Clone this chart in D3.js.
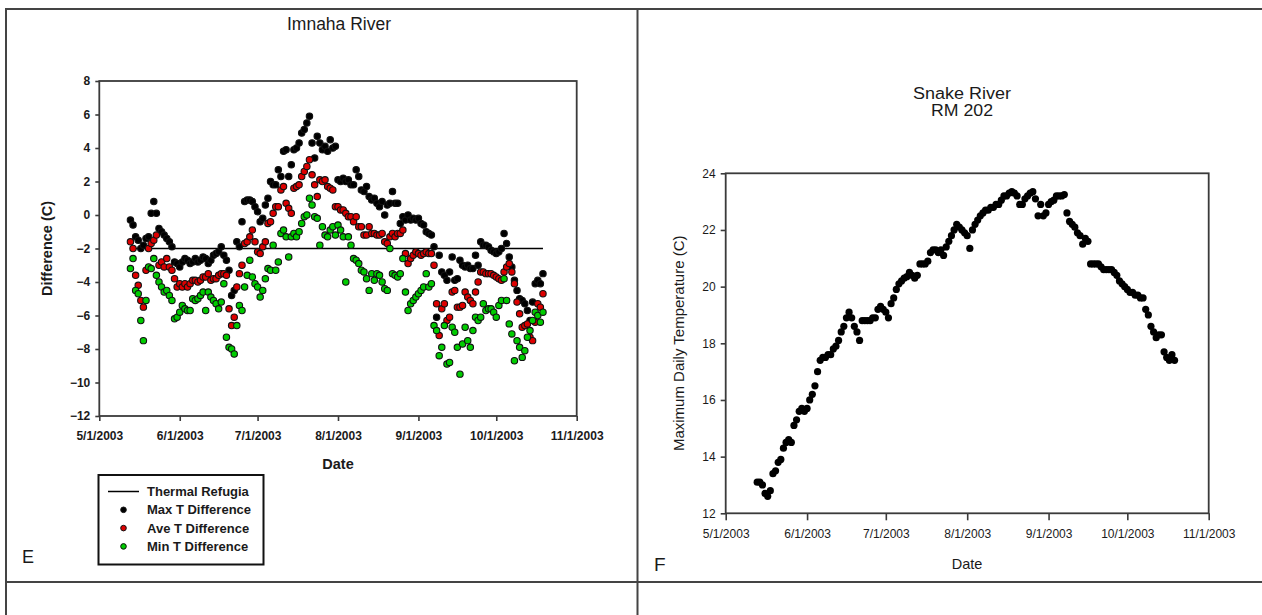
<!DOCTYPE html>
<html>
<head>
<meta charset="utf-8">
<script src="https://cdn.jsdelivr.net/npm/d3@7"></script>
<style>
  html, body { margin: 0; padding: 0; background: #fff; }
  svg { display: block; font-family: "Liberation Sans", Arial, sans-serif; }
</style>
</head>
<body>
<svg id="fig" width="1262" height="615"></svg>
<script>
// ---- Daily observations, 5/13/2003 through 10/20/2003 ----
const firstDay = new Date(2003, 4, 13);

// Imnaha River: temperature differences (C)
const maxDiff = [
  -0.3, -0.6, -1.3, -1.5, -2.0, -1.8, -1.4, -1.3, 0.1, 0.8,
  0.1, -0.8, -1.0, -1.2, -1.4, -1.6, -1.9, -2.8, -2.9, -3.1,
  -2.8, -2.6, -2.7, -2.9, -2.8, -2.6, -2.8, -2.7, -2.5, -2.6,
  -2.9, -2.7, -2.4, -2.3, -2.2, -1.9, -2.4, -2.7, -3.3, -4.8,
  -4.5, -1.6, -1.9, -0.4, 0.8, 0.9, 0.9, 0.8, 0.5, 0.2,
  -0.4, -0.2, 0.6, 1.0, 2.0, 1.8, 1.8, 2.7, 2.3, 3.8,
  3.9, 2.3, 3.0, 3.9, 4.0, 4.3, 4.9, 5.1, 5.5, 5.9,
  4.3, 3.4, 4.7, 4.3, 3.9, 4.1, 3.8, 4.5, 4.0, 4.1,
  2.1, 2.0, 2.2, 2.0, 2.1, 1.8, 1.8, 2.7, 2.3, 1.5,
  1.4, 1.7, 1.1, 0.9, 1.0, 0.7, 0.5, 0.8, 0.0, 0.6,
  0.7, 1.4, 0.7, 0.7, -0.5, -0.1, -0.3, 0.0, -0.3, -0.2,
  -0.3, -0.2, -0.5, -0.6, -1.0, -1.1, -1.2, -1.9, -6.1, -2.4,
  -3.4, -3.6, -3.9, -3.4, -2.5, -3.9, -3.8, -2.7, -3.0, -3.1,
  -3.0, -3.2, -3.2, -2.4, -3.0, -1.6, -1.8, -1.8, -1.9, -2.1,
  -2.2, -2.3, -2.2, -2.0, -1.1, -1.7, -2.5, -3.1, -3.9, -4.5,
  -5.0, -5.1, -5.3, -5.7, -6.3, -5.2, -4.1, -3.9, -4.1, -3.5
];
const aveDiff = [
  -1.6, -2.0, -3.6, -4.2, -5.1, -5.5, -3.3, -2.0, -1.7, -1.5,
  -1.2, -3.0, -2.8, -3.1, -2.6, -3.1, -3.3, -3.8, -4.3, -4.1,
  -4.3, -4.1, -4.3, -4.1, -3.9, -3.9, -4.0, -3.9, -3.7, -3.7,
  -3.5, -3.9, -3.8, -3.8, -3.6, -3.5, -3.5, -3.6, -5.6, -6.6,
  -6.1, -4.3, -3.5, -3.0, -1.7, -1.6, -1.3, -0.9, -1.6, -2.2,
  -2.3, -1.9, -1.6, -0.5, -0.4, 0.1, 0.5, 0.5, 1.5, 1.7,
  0.7, 0.4, 0.1, 1.6, 1.7, 1.8, 2.3, 2.6, 2.9, 3.3,
  2.4, 1.8, 1.1, 2.1, 2.0, 2.1, 1.7, 1.6, 1.5, 0.5,
  0.5, 0.3, 0.3, 0.1, -0.1, -0.1, -0.4, -0.1, -0.7, -0.7,
  -1.2, -1.2, -0.7, -1.1, -1.1, -1.2, -1.2, -1.1, -1.6, -1.7,
  -1.3, -1.1, -1.3, -1.1, -1.1, -0.9, -2.3, -2.9, -2.6, -2.4,
  -2.2, -2.3, -2.4, -2.3, -2.2, -2.3, -2.3, -3.0, -5.3, -7.2,
  -5.6, -5.3, -6.3, -6.1, -4.6, -4.5, -5.5, -5.5, -5.4, -4.6,
  -4.9, -5.1, -5.3, -4.6, -4.0, -3.4, -3.4, -3.5, -3.5, -3.5,
  -3.6, -3.7, -3.8, -3.9, -3.4, -3.1, -2.9, -3.4, -4.1, -5.2,
  -5.9, -6.7, -6.6, -6.5, -7.3, -7.5, -6.4, -5.3, -5.5, -4.7
];
const minDiff = [
  -3.2, -2.6, -4.5, -4.7, -6.3, -7.5, -5.1, -3.1, -3.2, -2.6,
  -3.6, -4.0, -4.3, -4.6, -4.5, -4.8, -5.1, -6.2, -6.1, -5.8,
  -5.4, -5.6, -5.7, -5.7, -5.0, -5.1, -5.0, -4.8, -4.6, -5.7,
  -4.6, -4.9, -5.1, -5.3, -5.6, -5.2, -4.1, -7.3, -7.9, -8.0,
  -8.3, -6.6, -5.4, -5.7, -4.3, -3.6, -2.7, -3.7, -4.1, -4.3,
  -4.9, -4.5, -3.8, -3.2, -3.3, -1.8, -3.3, -2.8, -1.1, -0.9,
  -1.3, -2.5, -1.3, -1.1, -1.3, -1.0, -0.5, -0.1, 0.0, 1.0,
  0.6, -0.1, -0.2, -1.8, -0.7, -1.2, -1.3, -0.9, -0.7, -1.2,
  -0.6, -0.9, -1.3, -4.0, -1.3, -1.8, -2.6, -2.7, -2.9, -3.3,
  -3.4, -3.8, -4.5, -3.5, -3.9, -3.5, -3.6, -4.0, -4.4, -4.5,
  -2.0, -3.5, -3.6, -3.7, -3.5, -2.6, -4.6, -5.7, -5.3, -5.1,
  -4.9, -4.7, -4.5, -4.3, -3.5, -4.3, -4.1, -6.6, -6.9, -8.4,
  -7.9, -6.6, -8.9, -8.8, -6.7, -7.0, -7.9, -9.5, -7.7, -6.7,
  -7.5, -7.9, -6.9, -6.1, -6.3, -6.1, -5.3, -5.7, -5.6, -5.6,
  -5.8, -6.1, -5.4, -5.1, -3.8, -5.1, -6.5, -7.1, -8.7, -7.5,
  -7.9, -8.5, -8.1, -7.3, -6.9, -6.3, -5.8, -6.0, -6.4, -5.8
];
const refugiaLevel = -2;

// Snake River RM 202: maximum daily temperature (C)
const snakeMax = [
  13.1, 13.1, 13.0, 12.7, 12.6, 12.8, 13.4, 13.5, 13.8, 13.9,
  14.3, 14.5, 14.6, 14.5, 15.1, 15.3, 15.6, 15.7, 15.6, 15.7,
  16.0, 16.2, 16.5, 17.0, 17.4, 17.5, 17.5, 17.6, 17.6, 17.8,
  17.9, 18.1, 18.4, 18.6, 18.9, 19.1, 18.9, 18.6, 18.4, 18.1,
  18.8, 18.8, 18.8, 18.8, 18.9, 18.9, 19.2, 19.3, 19.2, 19.1,
  18.9, 19.4, 19.6, 19.9, 20.1, 20.2, 20.3, 20.35, 20.5, 20.4,
  20.3, 20.4, 20.8, 20.8, 20.8, 20.9, 21.2, 21.3, 21.3, 21.2,
  21.3, 21.1, 21.4, 21.6, 21.8, 22.0, 22.2, 22.1, 22.0, 21.9,
  21.8, 21.35, 22.0, 22.2, 22.35, 22.5, 22.6, 22.7, 22.7, 22.8,
  22.8, 22.9, 22.9, 23.05, 23.2, 23.2, 23.3, 23.35, 23.3, 23.2,
  22.9, 22.9, 23.1, 23.2, 23.3, 23.35, 23.1, 22.5, 22.9, 22.5,
  22.6, 22.9, 23.0, 23.05, 23.2, 23.2, 23.2, 23.25, 22.6, 22.3,
  22.2, 22.1, 21.9, 21.8, 21.5, 21.7, 21.6, 20.8, 20.8, 20.8,
  20.8, 20.7, 20.6, 20.6, 20.6, 20.6, 20.5, 20.4, 20.2, 20.1,
  20.0, 19.9, 19.8, 19.8, 19.7, 19.7, 19.6, 19.6, 19.2, 19.0,
  18.6, 18.4, 18.2, 18.3, 18.3, 17.7, 17.5, 17.4, 17.6, 17.4
];

// Axis ticks
const monthTicks = ["2003-05-01", "2003-06-01", "2003-07-01", "2003-08-01",
                    "2003-09-01", "2003-10-01", "2003-11-01"];
const diffTicks = [-12, -10, -8, -6, -4, -2, 0, 2, 4, 6, 8];
const tempTicks = [12, 14, 16, 18, 20, 22, 24];

const maxColor = "#000000";
const aveColor = "#dd0000";
const minColor = "#00cc00";

const legendItems = [
  { label: "Thermal Refugia", kind: "line" },
  { label: "Max T Difference", kind: "dot", fill: maxColor },
  { label: "Ave T Difference", kind: "dot", fill: aveColor },
  { label: "Min T Difference", kind: "dot", fill: minColor }
];

// ---- helpers ----
const parseDay = d3.timeParse("%Y-%m-%d");
const fmtDate = d3.timeFormat("%-m/%-d/%Y");
const tickDates = monthTicks.map(parseDay);
const days = maxDiff.map((_, i) => d3.timeDay.offset(firstDay, i));
const ink = "#1a1a1a";
const frameInk = "#3a3a3a";

const svg = d3.select("#fig");

// page frame (table cell borders)
const frame = svg.append("g").attr("stroke", "#444").attr("stroke-width", 2).attr("fill", "none");
frame.append("line").attr("x1", 5).attr("x2", 1262).attr("y1", 9).attr("y2", 9);
frame.append("line").attr("x1", 6).attr("x2", 6).attr("y1", 8).attr("y2", 615);
frame.append("line").attr("x1", 637.5).attr("x2", 637.5).attr("y1", 8).attr("y2", 615);
frame.append("line").attr("x1", 5).attr("x2", 1262).attr("y1", 582).attr("y2", 582);

function styleAxis(g, size, weight) {
  g.select(".domain").remove();
  g.selectAll(".tick line").attr("stroke", frameInk).attr("stroke-width", 1.6);
  g.selectAll(".tick text")
    .attr("fill", ink)
    .style("font-size", size + "px")
    .style("font-weight", weight)
    .style("font-family", '"Liberation Sans", Arial, sans-serif');
}

// ================= Panel E: Imnaha River =================
const xL = d3.scaleTime().domain([tickDates[0], tickDates[tickDates.length - 1]]).range([99.3, 576.7]);
const yL = d3.scaleLinear().domain([-12, 8]).range([416, 81]);

const pE = svg.append("g");

pE.append("g").attr("transform", "translate(99.3,0)")
  .call(d3.axisLeft(yL).tickValues(diffTicks).tickSize(4).tickPadding(5).tickSizeOuter(0))
  .call(g => styleAxis(g, 12, "bold"));

pE.append("g").attr("transform", "translate(0,416)")
  .call(d3.axisBottom(xL).tickValues(tickDates).tickFormat(fmtDate).tickSize(5).tickPadding(10).tickSizeOuter(0))
  .call(g => styleAxis(g, 12, "bold"));

pE.append("rect")
  .attr("x", xL.range()[0]).attr("y", yL.range()[1])
  .attr("width", xL.range()[1] - xL.range()[0])
  .attr("height", yL.range()[0] - yL.range()[1])
  .attr("fill", "none").attr("stroke", frameInk).attr("stroke-width", 1.8);

// thermal refugia threshold across the sampled period
pE.append("line")
  .attr("x1", xL(days[0])).attr("x2", xL(days[days.length - 1]))
  .attr("y1", yL(refugiaLevel)).attr("y2", yL(refugiaLevel))
  .attr("stroke", "#000").attr("stroke-width", 1.5);

const seriesE = [
  { values: maxDiff, fill: maxColor },
  { values: aveDiff, fill: aveColor },
  { values: minDiff, fill: minColor }
];
seriesE.forEach(s => {
  pE.append("g").selectAll("circle")
    .data(s.values)
    .join("circle")
    .attr("cx", (v, i) => xL(days[i]))
    .attr("cy", v => yL(v))
    .attr("r", 3.2)
    .attr("fill", s.fill)
    .attr("stroke", "#111")
    .attr("stroke-width", 1.1);
});

pE.append("text").attr("x", 339).attr("y", 30).attr("text-anchor", "middle")
  .attr("fill", ink).style("font-size", "17.5px").text("Imnaha River");

pE.append("text").attr("transform", "translate(52,248.5) rotate(-90)")
  .attr("text-anchor", "middle").attr("fill", ink)
  .style("font-size", "14.5px").style("font-weight", "bold").text("Difference (C)");

pE.append("text").attr("x", 338).attr("y", 469).attr("text-anchor", "middle")
  .attr("fill", ink).style("font-size", "14.5px").style("font-weight", "bold").text("Date");

// legend
const leg = pE.append("g");
leg.append("rect").attr("x", 98.5).attr("y", 475).attr("width", 165).attr("height", 89.5)
  .attr("fill", "#fff").attr("stroke", "#111").attr("stroke-width", 2);
legendItems.forEach((it, i) => {
  const cy = 491.5 + i * 18.3;
  if (it.kind === "line") {
    leg.append("line").attr("x1", 108).attr("x2", 139).attr("y1", cy).attr("y2", cy)
      .attr("stroke", "#000").attr("stroke-width", 1.5);
  } else {
    leg.append("circle").attr("cx", 123.5).attr("cy", cy).attr("r", 2.8)
      .attr("fill", it.fill).attr("stroke", "#111").attr("stroke-width", 1);
  }
  leg.append("text").attr("x", 147).attr("y", cy + 4.5).attr("fill", ink)
    .style("font-size", "13px").style("font-weight", "bold").text(it.label);
});

svg.append("text").attr("x", 22).attr("y", 563).attr("fill", ink)
  .style("font-size", "18px").text("E");

// ================= Panel F: Snake River RM 202 =================
const xR = d3.scaleTime().domain([tickDates[0], tickDates[tickDates.length - 1]]).range([725.7, 1208.7]);
const yR = d3.scaleLinear().domain([12, 24]).range([513.3, 173.3]);

const pF = svg.append("g");

pF.append("g").attr("transform", "translate(725.7,0)")
  .call(d3.axisLeft(yR).tickValues(tempTicks).tickSize(5).tickPadding(5).tickSizeOuter(0))
  .call(g => styleAxis(g, 12, "normal"));

pF.append("g").attr("transform", "translate(0,513.3)")
  .call(d3.axisBottom(xR).tickValues(tickDates).tickFormat(fmtDate).tickSize(7).tickPadding(9).tickSizeOuter(0))
  .call(g => styleAxis(g, 12, "normal"));

pF.append("rect")
  .attr("x", xR.range()[0]).attr("y", yR.range()[1])
  .attr("width", xR.range()[1] - xR.range()[0])
  .attr("height", yR.range()[0] - yR.range()[1])
  .attr("fill", "none").attr("stroke", frameInk).attr("stroke-width", 1.8);

pF.append("g").selectAll("circle")
  .data(snakeMax)
  .join("circle")
  .attr("cx", (v, i) => xR(days[i]))
  .attr("cy", v => yR(v))
  .attr("r", 3.6)
  .attr("fill", "#000");

// two-line title, glyphs widened slightly
pF.append("text").attr("x", 962).attr("y", 98.5).attr("text-anchor", "middle")
  .attr("fill", ink).style("font-size", "16px")
  .attr("textLength", 98).attr("lengthAdjust", "spacingAndGlyphs").text("Snake River");
pF.append("text").attr("x", 962).attr("y", 115.5).attr("text-anchor", "middle")
  .attr("fill", ink).style("font-size", "16px")
  .attr("textLength", 62).attr("lengthAdjust", "spacingAndGlyphs").text("RM 202");

pF.append("text").attr("transform", "translate(684,343.3) rotate(-90)")
  .attr("text-anchor", "middle").attr("fill", ink)
  .style("font-size", "15px").text("Maximum Daily Temperature (C)");

pF.append("text").attr("x", 967).attr("y", 569).attr("text-anchor", "middle")
  .attr("fill", ink).style("font-size", "14.5px").text("Date");

svg.append("text").attr("x", 654).attr("y", 571).attr("fill", ink)
  .style("font-size", "19px").text("F");
</script>
</body>
</html>
